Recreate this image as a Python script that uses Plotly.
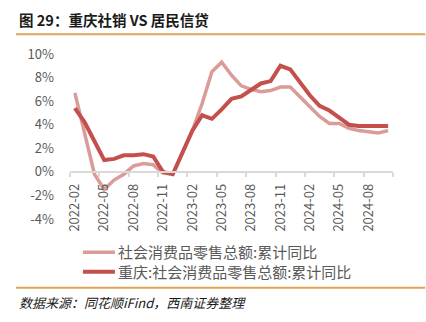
import plotly.graph_objects as go

# Monthly categories, 2022-02 through 2024-10 (January has no cumulative reading)
months = [
    "2022-02", "2022-03", "2022-04", "2022-05", "2022-06", "2022-07", "2022-08",
    "2022-09", "2022-10", "2022-11", "2022-12",
    "2023-01", "2023-02", "2023-03", "2023-04", "2023-05", "2023-06", "2023-07",
    "2023-08", "2023-09", "2023-10", "2023-11", "2023-12",
    "2024-01", "2024-02", "2024-03", "2024-04", "2024-05", "2024-06", "2024-07",
    "2024-08", "2024-09", "2024-10",
]

# 社会消费品零售总额:累计同比 (%)
national_yoy = [
    6.7, 3.3, -0.2, -1.5, -0.7, -0.2, 0.5, 0.7, 0.6, -0.1, -0.2,
    None, 3.5, 5.8, 8.5, 9.3, 8.2, 7.3, 7.0, 6.8, 6.9, 7.2, 7.2,
    None, 5.5, 4.7, 4.1, 4.1, 3.7, 3.5, 3.4, 3.3, 3.5,
]

# 重庆:社会消费品零售总额:累计同比 (%)
chongqing_yoy = [
    5.4, 4.2, 2.6, 1.0, 1.1, 1.4, 1.4, 1.5, 1.3, 0.0, -0.2,
    None, 3.5, 4.8, 4.5, 5.3, 6.2, 6.4, 7.0, 7.5, 7.7, 9.0, 8.7,
    None, 6.5, 5.6, 5.2, 4.6, 4.0, 3.9, 3.9, 3.9, 3.9,
]

series_names = ["社会消费品零售总额:累计同比", "重庆:社会消费品零售总额:累计同比"]
y_ticks = [-4, -2, 0, 2, 4, 6, 8, 10]
y_tick_text = [f"{v}%" for v in y_ticks]

title_text = "图 29：重庆社销 VS 居民信贷"
source_text = "数据来源：同花顺iFind，西南证券整理"

x_idx = list(range(len(months)))
label_idx = x_idx[::3]
label_txt = months[::3]

GRAY = "#595959"
AXIS = "#D9D9D9"
ACCENT = "#DDA557"
CJK = "Noto Sans CJK SC"
series_styles = [
    dict(color="#DA9B99", width=3.5),
    dict(color="#C3504D", width=4),
]

fig = go.Figure()
for name, values, style in zip(series_names, [national_yoy, chongqing_yoy], series_styles):
    fig.add_trace(go.Scatter(
        x=x_idx, y=values, name=name, mode="lines",
        connectgaps=True, line=style,
    ))

fig.update_layout(
    width=426, height=322,
    margin=dict(l=70, r=33, t=54, b=103),
    paper_bgcolor="white", plot_bgcolor="white",
    font=dict(family=CJK, color=GRAY),
    showlegend=False,
    xaxis=dict(
        range=[-0.5, len(months) - 0.5],
        tickmode="array", tickvals=label_idx, ticktext=label_txt,
        tickangle=-90, ticks="", ticklabelstandoff=6,
        tickfont=dict(size=13, color=GRAY, family=CJK),
        showline=True, linecolor=AXIS, linewidth=1.5,
        showgrid=False, zeroline=False,
        anchor="free", position=4 / 14,
        minor=dict(tick0=-0.5, dtick=3, ticks="outside", ticklen=4,
                   tickcolor=AXIS, tickwidth=1.5, showgrid=False),
    ),
    yaxis=dict(
        range=[-4, 10], tickmode="array", tickvals=y_ticks, ticktext=y_tick_text,
        ticks="", ticklabelstandoff=15,
        tickfont=dict(size=13, color=GRAY, family=CJK),
        showgrid=False, zeroline=False, showline=False,
    ),
)

# Two-row key below the axis labels: one text block, one swatch per row
KEY_FONT = 15
key_center = -0.2606
row_step = KEY_FONT * 1.3 / 165  # line pitch in paper units (plot height 165 px)
key_rows_y = [key_center + row_step / 2, key_center - row_step / 2]
for style, ky in zip(series_styles, key_rows_y):
    fig.add_shape(type="line", xref="paper", yref="paper",
                  x0=0.040, x1=0.139, y0=ky, y1=ky, line=style)
fig.add_annotation(
    text="<br>".join(series_names), xref="paper", yref="paper",
    x=0.1455, y=key_center, xanchor="left", yanchor="middle", align="left",
    showarrow=False, borderpad=0,
    font=dict(size=KEY_FONT, color=GRAY, family=CJK),
)

# Heading, rules and source note around the plot
fig.add_annotation(
    text=f"<b>{title_text}</b>", xref="paper", yref="paper",
    x=-0.164, y=1.208, xanchor="left", yanchor="middle", showarrow=False,
    font=dict(size=14.5, color="#1A1A1A", family=CJK),
)
fig.add_shape(type="line", xref="paper", yref="paper",
              x0=-0.167, x1=1.1, y0=1.119, y1=1.119,
              line=dict(color=ACCENT, width=2))
fig.add_shape(type="line", xref="paper", yref="paper",
              x0=-0.167, x1=1.1, y0=-0.416, y1=-0.416,
              line=dict(color=ACCENT, width=2))
fig.add_annotation(
    text=f"<i>{source_text}</i>", xref="paper", yref="paper",
    x=-0.164, y=-0.507, xanchor="left", yanchor="middle", showarrow=False,
    font=dict(size=13, color="#1A1A1A", family=CJK),
)

fig.write_html("out.html")
